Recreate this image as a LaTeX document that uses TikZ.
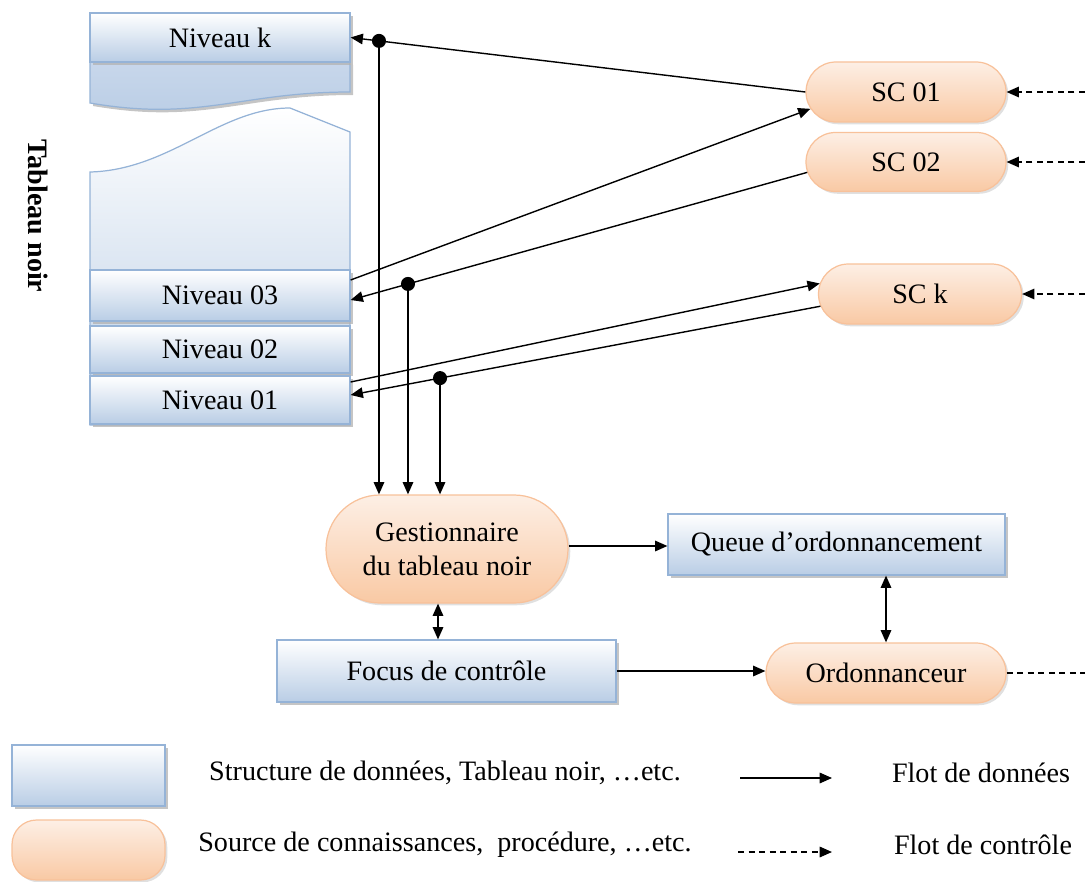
\documentclass[tikz,border=0pt]{standalone}
\usepackage{fontspec}
\setmainfont{Liberation Serif}
\usetikzlibrary{arrows.meta,shadows,calc,shapes.misc}
\definecolor{bborder}{HTML}{95B3D7}
\definecolor{bbot}{HTML}{B9CDE5}
\definecolor{bmid}{HTML}{C8D7EB}
\definecolor{otop}{HTML}{FDEFE5}
\definecolor{obot}{HTML}{F9C9A4}
\definecolor{oborder}{HTML}{F8C19A}
\tikzset{
  txt/.style={font=\fontsize{16}{19.5}\selectfont, align=center, inner sep=0pt},
  bshadow/.style={drop shadow={shadow xshift=1.8pt, shadow yshift=-1.8pt, fill=gray!60, opacity=0.75}},
  oshadow/.style={drop shadow={shadow xshift=1.3pt, shadow yshift=-1.3pt, fill=gray!45, opacity=0.55}},
  bluebox/.style={txt, draw=bborder, line width=0.7pt, top color=white, bottom color=bbot, bshadow},
  pill/.style={txt, rounded rectangle, draw=oborder, line width=0.7pt, top color=otop, bottom color=obot, oshadow},
  arr/.style={line width=0.8pt, -{Triangle[length=7pt,width=6pt]}},
  dbl/.style={line width=0.8pt, {Triangle[length=7pt,width=6pt]}-{Triangle[length=7pt,width=6pt]}},
  darr/.style={line width=0.8pt, dash pattern=on 3.5pt off 2.5pt, -{Triangle[length=7pt,width=6pt]}},
  dline/.style={line width=0.8pt, dash pattern=on 3.5pt off 2.5pt},
  dotmark/.style={circle, fill=black, inner sep=0pt, minimum size=8pt}
}
\begin{document}
\begin{tikzpicture}[x=0.02cm, y=-0.02cm]
\useasboundingbox (0,0) rectangle (1085,882);

% ---- Tableau noir (torn blackboard) ----
\fill[gray!60, opacity=0.75, shift={(3,3)}] (90,62) -- (350,62) -- (350,92) .. controls (240,92) and (200,122) .. (90,103) -- cycle;
\shade[top color=bmid, bottom color=bbot, draw=bborder, line width=0.7pt]
  (90,62) -- (350,62) -- (350,92) .. controls (240,92) and (200,122) .. (90,103) -- cycle;
\shade[top color=white, bottom color=bbot, draw=bborder, line width=0.7pt]
  (90,172) .. controls (170,170) and (220,108) .. (290,108) -- (350,132) -- (350,425) -- (90,425) -- cycle;

\node[bluebox, minimum width=260*0.02cm, minimum height=49*0.02cm] (nk) at (220,37.5) {Niveau k};
\node[bluebox, minimum width=260*0.02cm, minimum height=51*0.02cm] (n3) at (220,295.5) {Niveau 03};
\node[bluebox, minimum width=260*0.02cm, minimum height=47*0.02cm] (n2) at (220,349.5) {Niveau 02};
\node[bluebox, minimum width=260*0.02cm, minimum height=48*0.02cm] (n1) at (220,400) {Niveau 01};

\node[txt, font=\fontsize{16}{19.5}\selectfont\bfseries, rotate=-90] (tn) at (38,216) {Tableau noir};

% ---- Sources de connaissances ----
\node[pill, minimum width=200*0.02cm, minimum height=60*0.02cm] (sc1) at (906,92) {SC 01};
\node[pill, minimum width=200*0.02cm, minimum height=59*0.02cm] (sc2) at (906,162) {SC 02};
\node[pill, minimum width=203*0.02cm, minimum height=60*0.02cm] (sck) at (920,294) {SC k};

% ---- Control part ----
\node[pill, minimum width=242*0.02cm, minimum height=108*0.02cm] (gest) at (447,549) {Gestionnaire\\du tableau noir};
\node[bluebox, minimum width=337*0.02cm, minimum height=61*0.02cm] (queue) at (836.5,544.5) {Queue d'ordonnancement};
\node[bluebox, minimum width=339*0.02cm, minimum height=62*0.02cm] (focus) at (446.5,671) {Focus de contrôle};
\node[pill, minimum width=240*0.02cm, minimum height=60*0.02cm] (ordo) at (886,673) {Ordonnanceur};

% ---- connector end points ----
\coordinate (n3out) at ($(n3.east)+(0,-15.5)$);
\coordinate (n3in)  at ($(n3.east)+(0,4.5)$);
\coordinate (n1out) at ($(n1.east)+(0,-18)$);
\coordinate (n1in)  at ($(n1.east)+(0,-5)$);
\coordinate (sc1in) at (sc1.190);
\coordinate (sc2out) at (sc2.186);
\coordinate (sckin) at (sck.174);
\coordinate (sckout) at (sck.187);

\draw[arr] (sc1.west) -- (nk.east);
\draw[arr] (n3out) -- (sc1in);
\draw[arr] (sc2out) -- (n3in);
\draw[arr] (n1out) -- (sckin);
\draw[arr] (sckout) -- (n1in);

% taps to the manager
\coordinate (v1a) at (379,0); \coordinate (v1b) at (379,100);
\coordinate (v2a) at (408,0); \coordinate (v2b) at (408,100);
\coordinate (v3a) at (440,0); \coordinate (v3b) at (440,100);
\coordinate (d1) at (intersection of sc1.west--nk.east and v1a--v1b);
\coordinate (d2) at (intersection of sc2out--n3in and v2a--v2b);
\coordinate (d3) at (intersection of sckout--n1in and v3a--v3b);
\node[dotmark] (dot1) at (d1) {};
\node[dotmark] (dot2) at (d2) {};
\node[dotmark] (dot3) at (d3) {};
\draw[arr] (dot1.center) -- (dot1.center |- gest.north);
\draw[arr] (dot2.center) -- (dot2.center |- gest.north);
\draw[arr] (dot3.center) -- (dot3.center |- gest.north);

% control flows into SCs
\coordinate (c1) at (1085,92);
\coordinate (c2) at (1085,162);
\coordinate (c3) at (1085,294);
\coordinate (c4) at (1085,673);
\draw[darr] (c1) -- (sc1.east);
\draw[darr] (c2) -- (sc2.east);
\draw[darr] (c3) -- (sck.east);
\draw[dline] (ordo.east) -- (c4);

\coordinate (ge) at ($(gest.east)+(0,-3)$);
\draw[arr] (ge) -- (ge -| queue.west);
\coordinate (g1) at ($(gest.south)+(-9,0)$);
\draw[dbl] (g1) -- (g1 |- focus.north);
\draw[dbl] (ordo.north |- queue.south) -- (ordo.north);
\draw[arr] (focus.east) -- (focus.east -| ordo.west);

% ---- Legend ----
\node[bluebox, minimum width=153*0.02cm, minimum height=61*0.02cm] (lb) at (88.5,775.5) {};
\node[txt, draw=oborder, line width=0.7pt, top color=otop, bottom color=obot, oshadow, rounded corners=14pt, minimum width=153*0.02cm, minimum height=60*0.02cm] (lo) at (88.5,850) {};
\node[txt] (lbt) at (445,773) {Structure de données, Tableau noir, …etc.};
\node[txt] (lot) at (445,845) {Source de connaissances,\ \ procédure, …etc.};
\coordinate (la1) at (740,778); \coordinate (la2) at (832,778);
\coordinate (lc1) at (738,852); \coordinate (lc2) at (832,852);
\draw[arr] (la1) -- (la2);
\draw[darr] (lc1) -- (lc2);
\node[txt] (lft) at (981,773) {Flot de données};
\node[txt] (lct) at (983,845) {Flot de contrôle};
\end{tikzpicture}
\end{document}
